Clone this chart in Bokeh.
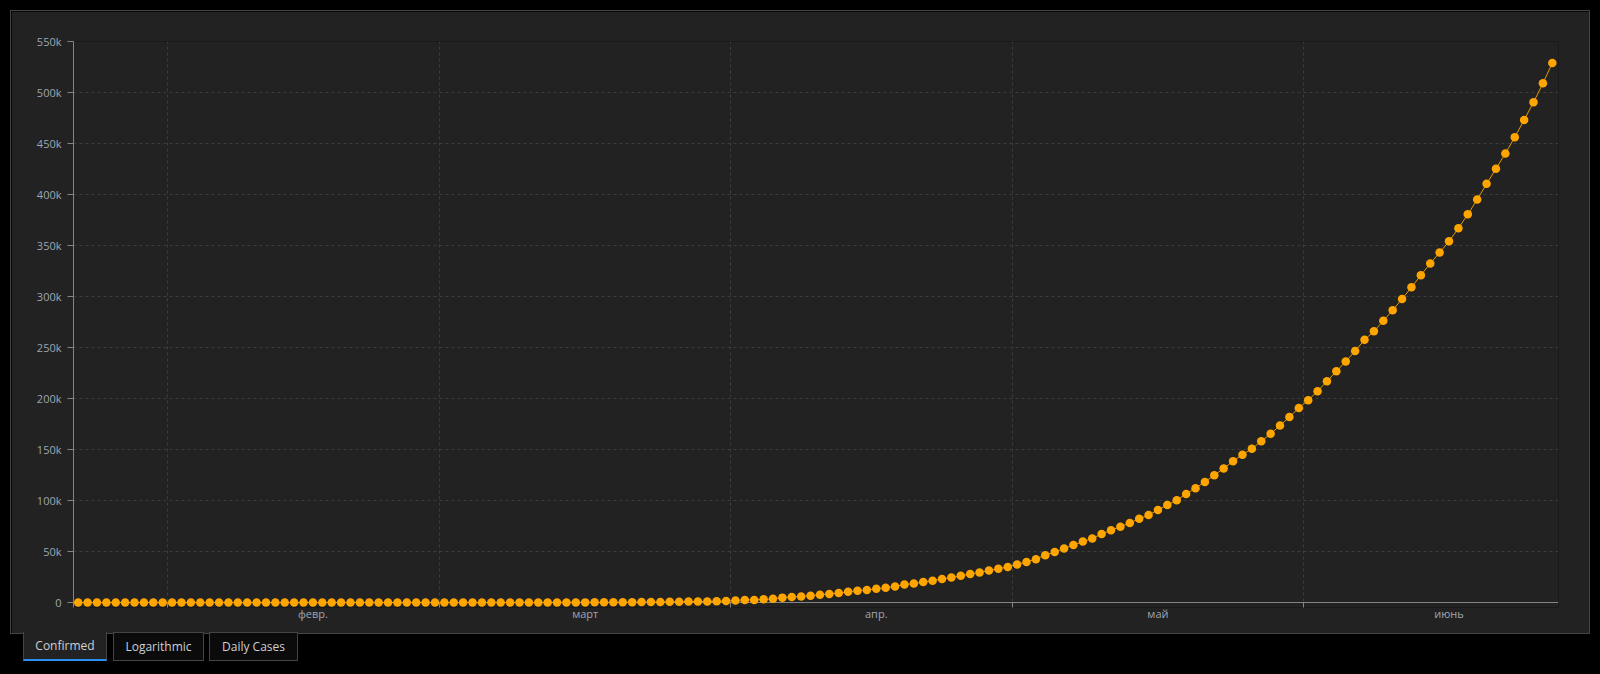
import pandas as pd
from bokeh.plotting import figure
from bokeh.layouts import column
from bokeh.models import Range1d, FixedTicker, Div, ColumnDataSource, Span
from bokeh.embed import file_html
from bokeh.resources import INLINE

# ---------------- data ----------------
start_date = "2020-01-22"
confirmed = [
    0, 0, 0, 0, 0, 0, 0, 0, 1, 1,                      # Jan 22 - Jan 31
    1, 2, 3, 3, 3, 3, 3, 3, 3, 3, 3, 3, 3, 3, 3, 3, 3, 3, 3, 3,
    3, 3, 3, 3, 3, 3, 3, 3, 3,                          # Feb
    3, 5, 5, 28, 30, 31, 34, 39, 43, 56, 62, 73, 82, 102, 113, 119,
    142, 156, 194, 244, 330, 396, 499, 536, 657, 727, 887, 987, 1024,
    1251, 1397,                                         # Mar
    1998, 2543, 2567, 3082, 3588, 4778, 5311, 5916, 6725, 7598, 8446,
    9205, 10453, 11487, 12322, 13430, 14352, 15722, 17615, 18539, 20080,
    21370, 23077, 24530, 26283, 27890, 29451, 31324, 33062, 34863,  # Apr
    37257, 39699, 42505, 46437, 49400, 52987, 56351, 59695, 62808, 67161,
    70768, 74292, 78055, 81997, 85784, 90648, 95698, 100328, 106475,
    112028, 118226, 124794, 131423, 138536, 144950, 150793, 158086,
    165386, 173491, 181827, 190609,                     # May
    198370, 207191, 216824, 226713, 236184, 246622, 257486, 265928,
    276146, 286605, 297535, 308993, 320922, 332424, 343091, 354065,
    366946, 380532, 395048, 410451, 425282, 440215, 456183, 473105,
    490401, 508953, 528859,                             # Jun 1 - Jun 27
]
dates = pd.date_range(start_date, periods=len(confirmed), freq="D")

month_starts = ["2020-02-01", "2020-03-01", "2020-04-01", "2020-05-01", "2020-06-01"]
month_labels = ["февр.", "март", "апр.", "май", "июнь"]

y_ticks = [0, 50000, 100000, 150000, 200000, 250000, 300000, 350000,
           400000, 450000, 500000, 550000]
y_labels = ["0", "50k", "100k", "150k", "200k", "250k", "300k", "350k",
            "400k", "450k", "500k", "550k"]

tab_names = ["Confirmed", "Logarithmic", "Daily Cases"]

# ---------------- helpers ----------------
def ms(ts):
    return int(pd.Timestamp(ts).value // 10**6)

x_pts = dates + pd.Timedelta(hours=12)   # points drawn mid-day
src = ColumnDataSource(dict(x=x_pts, y=confirmed))

x_start = pd.Timestamp(start_date)
x_end = x_start + pd.Timedelta(days=158.16)

label_ticks = [ms(pd.Timestamp(m) + pd.Timedelta(days=15.5)) for m in month_starts]
grid_ticks = [ms(m) for m in month_starts]

FONT = "Open Sans"
BG = "#222222"
LABEL_COLOR = "#9ea6b1"
AXIS_COLOR = "#858585"
GRID_COLOR = "#3c3c3c"

Y_MAX = 550000
PAD_PX = 5            # room below the zero line so markers are not clipped
FRAME_H = 561         # pixel height for 0..Y_MAX
y_start = -Y_MAX * PAD_PX / FRAME_H

p = figure(
    width=1578, height=622,
    x_axis_type="datetime",
    x_range=Range1d(x_start, x_end),
    y_range=Range1d(y_start, Y_MAX),
    output_backend="svg",
    toolbar_location=None,
    min_border_left=62, min_border_right=31,
    min_border_top=30, min_border_bottom=622 - 30 - FRAME_H - PAD_PX,
    background_fill_color=BG, border_fill_color=BG,
    outline_line_color=None,
)
p.margin = (3, 0, 0, 3)
p.styles = {"outline": "1px solid #444444"}

# grids
p.xgrid.ticker = FixedTicker(ticks=grid_ticks)
p.xgrid.grid_line_color = GRID_COLOR
p.xgrid.grid_line_dash = "3 3"
p.ygrid.grid_line_color = GRID_COLOR
p.ygrid.grid_line_dash = "3 3"

# zero line acting as the x-axis line
zero_line = Span(location=0, dimension="width", line_color=AXIS_COLOR, line_width=1, level="underlay")
p.add_layout(zero_line)

p.line("x", "y", source=src, line_color="#e59a00", line_width=1)
p.scatter("x", "y", source=src, size=8.5, fill_color="#ffa500", line_color="#ffa500", line_width=0)

# x axis
xa = p.xaxis[0]
xa.ticker = FixedTicker(ticks=label_ticks, minor_ticks=grid_ticks)
xa.major_label_overrides = {t: l for t, l in zip(label_ticks, month_labels)}
xa.major_tick_out = 0
xa.major_tick_in = 0
xa.minor_tick_out = 0
xa.minor_tick_in = PAD_PX
xa.minor_tick_line_color = AXIS_COLOR
xa.axis_line_color = None
xa.major_label_text_color = LABEL_COLOR
xa.major_label_text_font = FONT
xa.major_label_text_font_size = "11px"
xa.major_label_standoff = -2

# y axis
ya = p.yaxis[0]
ya.ticker = FixedTicker(ticks=y_ticks, minor_ticks=[])
ya.major_label_overrides = {t: l for t, l in zip(y_ticks, y_labels)}
ya.major_tick_out = 6
ya.major_tick_in = 0
ya.minor_tick_out = 0
ya.minor_tick_in = 0
ya.major_tick_line_color = AXIS_COLOR
ya.axis_line_color = AXIS_COLOR
ya.major_label_text_color = LABEL_COLOR
ya.major_label_text_font = FONT
ya.major_label_text_font_size = "11px"
ya.major_label_standoff = 6

# tabs below the panel
tab_specs = [
    (15, 84, True),
    (105, 91, False),
    (201, 89, False),
]
parts = []
for (left, w, active), name in zip(tab_specs, tab_names):
    if active:
        style = (f"position:absolute;left:{left}px;top:-1px;width:{w - 2}px;height:27px;"
                 f"background:{BG};border-left:1px solid #444;border-right:1px solid #444;"
                 "border-bottom:2px solid #2a8ff0;")
    else:
        style = (f"position:absolute;left:{left}px;top:-1px;width:{w - 2}px;height:27px;"
                 "background:#0b0b0b;border:1px solid #444;")
    style += (f"font-family:'{FONT}';font-size:12px;color:#cdd0d4;"
              "display:flex;align-items:center;justify-content:center;box-sizing:content-box;")
    parts.append(f'<div style="{style}">{name}</div>')
tabs_html = '<div style="position:relative;width:1500px;height:40px;">' + "".join(parts) + "</div>"
tabs = Div(text=tabs_html, width=1500, height=40, margin=(0, 0, 0, 0))

layout = column(p, tabs, spacing=0)

html = file_html(layout, INLINE, title="Confirmed")
html = html.replace("</head>", "<style>html,body{background:#000000;margin:8px 8px;}html{margin:0;}</style></head>", 1)
with open("out.html", "w", encoding="utf-8") as f:
    f.write(html)
